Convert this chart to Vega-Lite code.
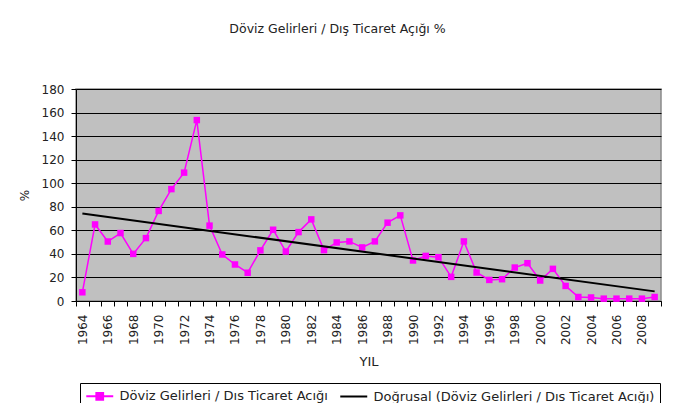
{
  "$schema": "https://vega.github.io/schema/vega-lite/v6.json",
  "autosize": "none",
  "width": 585,
  "height": 212,
  "padding": {"left": 76, "top": 89, "right": 13, "bottom": 102},
  "background": "white",
  "title": {
    "text": "Döviz Gelirleri / Dış Ticaret Açığı %",
    "font": "DejaVu Sans",
    "fontSize": 12.5,
    "fontWeight": "normal",
    "color": "#222222",
    "anchor": "middle",
    "baseline": "alphabetic",
    "offset": 37.5,
    "dx": -31
  },
  "config": {
    "view": {"fill": "#C0C0C0", "stroke": "#8a8a8a", "strokeWidth": 1.5},
    "axis": {
      "labelFont": "DejaVu Sans",
      "labelFontSize": 12,
      "labelColor": "#222222",
      "titleFont": "DejaVu Sans",
      "titleFontWeight": "normal",
      "titleColor": "#222222",
      "domainColor": "#000000",
      "tickColor": "#000000",
      "tickSize": 5
    }
  },
  "data": {
    "values": [
      {"year": 1964, "v": 7.4}, {"year": 1965, "v": 65}, {"year": 1966, "v": 50.5}, {"year": 1967, "v": 57.7},
      {"year": 1968, "v": 40}, {"year": 1969, "v": 53.4}, {"year": 1970, "v": 76.5}, {"year": 1971, "v": 95},
      {"year": 1972, "v": 109}, {"year": 1973, "v": 153.6}, {"year": 1974, "v": 64}, {"year": 1975, "v": 39.5},
      {"year": 1976, "v": 31}, {"year": 1977, "v": 24}, {"year": 1978, "v": 43}, {"year": 1979, "v": 60.5},
      {"year": 1980, "v": 42}, {"year": 1981, "v": 58.5}, {"year": 1982, "v": 69.3}, {"year": 1983, "v": 43.2},
      {"year": 1984, "v": 49.7}, {"year": 1985, "v": 50.6}, {"year": 1986, "v": 45.5}, {"year": 1987, "v": 50.6},
      {"year": 1988, "v": 66.5}, {"year": 1989, "v": 72.7}, {"year": 1990, "v": 34.4}, {"year": 1991, "v": 38.3},
      {"year": 1992, "v": 37.2}, {"year": 1993, "v": 20.5}, {"year": 1994, "v": 50.6}, {"year": 1995, "v": 24.2},
      {"year": 1996, "v": 17.9}, {"year": 1997, "v": 18.5}, {"year": 1998, "v": 28.4}, {"year": 1999, "v": 32.1},
      {"year": 2000, "v": 17.4}, {"year": 2001, "v": 27.3}, {"year": 2002, "v": 12.8}, {"year": 2003, "v": 3.4},
      {"year": 2004, "v": 3}, {"year": 2005, "v": 2}, {"year": 2006, "v": 2}, {"year": 2007, "v": 2},
      {"year": 2008, "v": 2}, {"year": 2009, "v": 3.4}
    ]
  },
  "encoding": {
    "x": {
      "field": "year",
      "type": "quantitative",
      "scale": {"domain": [1963.5, 2009.5], "nice": false, "zero": false},
      "axis": {
        "title": "YIL",
        "titleFontSize": 13,
        "titlePadding": 11,
        "values": [1963.5, 1964, 1964.5, 1965, 1965.5, 1966, 1966.5, 1967, 1967.5, 1968, 1968.5, 1969, 1969.5, 1970, 1970.5, 1971, 1971.5, 1972, 1972.5, 1973, 1973.5, 1974, 1974.5, 1975, 1975.5, 1976, 1976.5, 1977, 1977.5, 1978, 1978.5, 1979, 1979.5, 1980, 1980.5, 1981, 1981.5, 1982, 1982.5, 1983, 1983.5, 1984, 1984.5, 1985, 1985.5, 1986, 1986.5, 1987, 1987.5, 1988, 1988.5, 1989, 1989.5, 1990, 1990.5, 1991, 1991.5, 1992, 1992.5, 1993, 1993.5, 1994, 1994.5, 1995, 1995.5, 1996, 1996.5, 1997, 1997.5, 1998, 1998.5, 1999, 1999.5, 2000, 2000.5, 2001, 2001.5, 2002, 2002.5, 2003, 2003.5, 2004, 2004.5, 2005, 2005.5, 2006, 2006.5, 2007, 2007.5, 2008, 2008.5, 2009, 2009.5],
        "labelExpr": "datum.value % 2 == 0 ? '' + datum.value : ''",
        "labelAngle": -90,
        "labelAlign": "right",
        "labelBaseline": "middle",
        "labelPadding": 8,
        "labelOverlap": false,
        "labelFlush": false,
        "labelBound": false,
        "tickOpacity": {"condition": {"test": "datum.value % 1 == 0", "value": 0}, "value": 1},
        "grid": false
      }
    },
    "y": {
      "field": "v",
      "type": "quantitative",
      "scale": {"domain": [0, 180], "nice": false},
      "axis": {
        "title": "%",
        "titleFontSize": 12,
        "titlePadding": 10,
        "values": [0, 20, 40, 60, 80, 100, 120, 140, 160, 180],
        "labelPadding": 7,
        "grid": true,
        "gridColor": "#000000",
        "gridWidth": 1,
        "gridOpacity": 1
      }
    }
  },
  "layer": [
    {
      "mark": {"type": "line", "strokeWidth": 1.5},
      "encoding": {
        "color": {
          "datum": "Döviz Gelirleri / Dıs Ticaret Acığı",
          "type": "nominal",
          "scale": {
            "domain": ["Döviz Gelirleri / Dıs Ticaret Acığı", "Doğrusal (Döviz Gelirleri / Dıs Ticaret Acığı)"],
            "range": ["#FF00FF", "#000000"]
          },
          "legend": {
            "title": null,
            "orient": "none",
            "legendX": 4,
            "legendY": 294,
            "direction": "horizontal",
            "strokeColor": "#000000",
            "padding": 5,
            "symbolSize": 182,
            "symbolStrokeWidth": 2,
            "labelFont": "DejaVu Sans",
            "labelFontSize": 13,
            "labelColor": "#222222",
            "labelLimit": 500,
            "labelOffset": 18.5,
            "columnPadding": 8,
            "encode": {
              "symbols": {
                "update": {
                  "shape": {"signal": "datum.label == 'Döviz Gelirleri / Dıs Ticaret Acığı' ? 'M-1,0H3M0.5,-0.5H1.5V0.5H0.5Z' : 'M-1,0H3'"},
                  "fill": {"signal": "datum.label == 'Döviz Gelirleri / Dıs Ticaret Acığı' ? '#FF00FF' : 'transparent'"},
                  "stroke": {"signal": "datum.label == 'Döviz Gelirleri / Dıs Ticaret Acığı' ? '#FF00FF' : '#000000'"},
                  "strokeWidth": {"value": 2}
                }
              }
            }
          }
        }
      }
    },
    {
      "mark": {"type": "point", "shape": "square", "filled": true, "size": 42, "opacity": 1},
      "encoding": {
        "color": {"datum": "Döviz Gelirleri / Dıs Ticaret Acığı", "type": "nominal"}
      }
    },
    {
      "transform": [{"regression": "v", "on": "year"}],
      "mark": {"type": "line", "strokeWidth": 2},
      "encoding": {
        "color": {"datum": "Doğrusal (Döviz Gelirleri / Dıs Ticaret Acığı)", "type": "nominal"}
      }
    }
  ]
}
